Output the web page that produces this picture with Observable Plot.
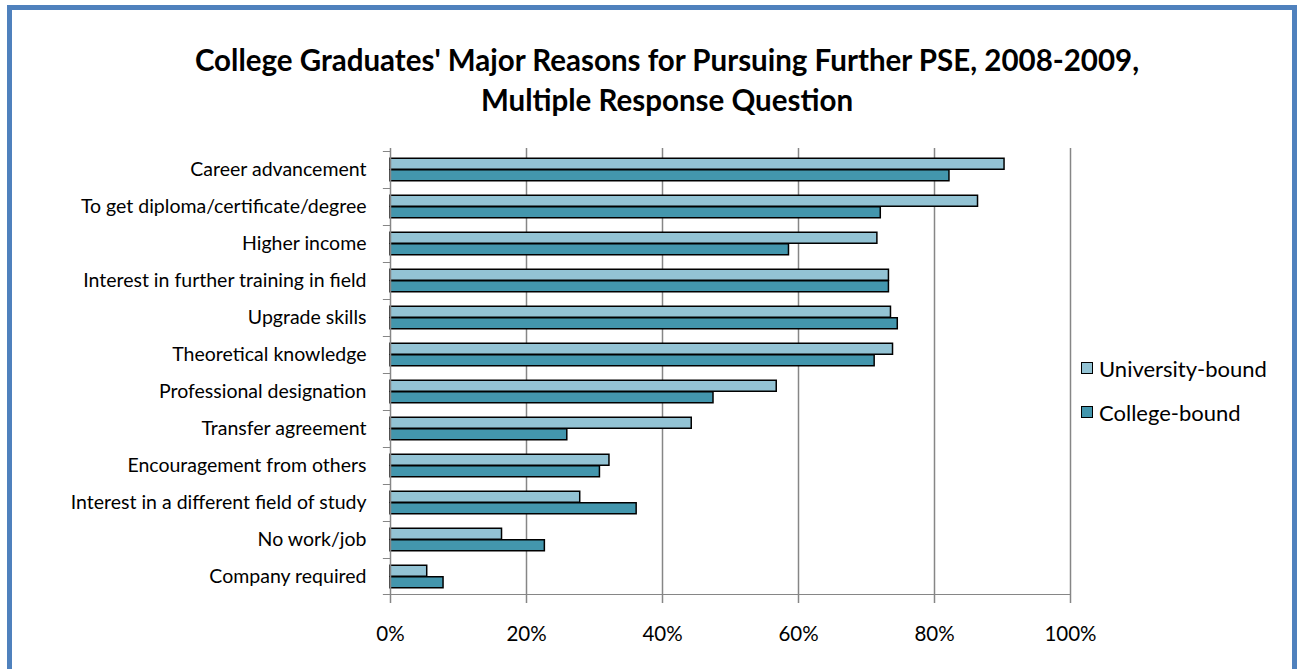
<!DOCTYPE html>
<html>
<head>
<meta charset="utf-8">
<script src="https://cdn.jsdelivr.net/npm/d3@7"></script>
<script src="https://cdn.jsdelivr.net/npm/@observablehq/plot@0.6"></script>
<style>
  html, body { margin: 0; padding: 0; background: #fff; }
  body { position: relative; width: 1298px; height: 669px; overflow: hidden; font-family: Lato, "Open Sans", sans-serif; }
  #frame { position: absolute; left: 7px; top: 5px; width: 1290px; height: 720px; border: 5px solid #4f81bd; box-sizing: border-box; }
  #title { position: absolute; left: 667px; top: 40px; transform: translateX(-50%); white-space: nowrap; text-align: center;
           font-weight: bold; font-size: 29.5px; line-height: 40px; color: #000; }
  #chart { position: absolute; left: 0; top: 0; }
  #legend { position: absolute; left: 1081px; top: 356px; font-size: 22px; color: #000; }
  #legend .item { display: flex; align-items: center; height: 24px; margin-bottom: 20px; }
  #legend .sw { width: 10px; height: 10px; border: 1.5px solid #000; margin-right: 6px; }
  #chart svg [aria-label="x-axis tick"] path, #chart svg .tick line { stroke: #868686; stroke-width: 1.5; }
  #chart svg [aria-label="x-axis tick label"], #chart svg g[aria-label="x-axis"] text { font-size: 20.5px; }
</style>
</head>
<body>
<div id="frame"></div>
<div id="chart"></div>
<div id="title">College Graduates' Major Reasons for Pursuing Further PSE, 2008-2009,<br>Multiple Response Question</div>
<div id="legend"></div>
<script>
const categories = [
  "Career advancement",
  "To get diploma/certificate/degree",
  "Higher income",
  "Interest in further training in field",
  "Upgrade skills",
  "Theoretical knowledge",
  "Professional designation",
  "Transfer agreement",
  "Encouragement from others",
  "Interest in a different field of study",
  "No work/job",
  "Company required"
];
const universityBound = [90.3, 86.4, 71.6, 73.3, 73.6, 73.9, 56.8, 44.3, 32.2, 27.9, 16.4, 5.4];
const collegeBound    = [82.2, 72.1, 58.6, 73.3, 74.6, 71.2, 47.5, 26.0, 30.8, 36.2, 22.7, 7.8];
const seriesNames = ["University-bound", "College-bound"];
const seriesColors = ["#93c3d4", "#4396ad"];
const xTicks = [0, 20, 40, 60, 80, 100];

const uni = categories.map((c, i) => ({category: c, value: universityBound[i]}));
const col = categories.map((c, i) => ({category: c, value: collegeBound[i]}));

const W = 1298, H = 669;
const mT = 148, mB = 71, mL = 390, mR = 228;
const bw = (H - mT - mB) / categories.length;
const barH = 11.5;
const outer = (bw - 2 * barH) / 2;
const gridColor = "#868686";

const plot = Plot.plot({
  width: W,
  height: H,
  marginTop: mT,
  marginBottom: mB,
  marginLeft: mL,
  marginRight: mR,
  style: {fontFamily: "Lato, 'Open Sans', sans-serif", fontSize: "19.5px", color: "#000", background: "transparent"},
  x: {domain: [0, 100], ticks: xTicks, tickFormat: d => d + "%", tickSize: 5, tickPadding: 23, label: null},
  y: {domain: categories, padding: 0, tickSize: 0, tickPadding: 24, label: null},
  marks: [
    Plot.ruleX(xTicks.slice(1), {stroke: gridColor, strokeWidth: 1.5}),
    Plot.barX(categories, {x1: -1.05, x2: 0, y: d => d, fill: gridColor, insetBottom: bw - 1.5}),
    Plot.barX(categories.slice(-1), {x1: -1.05, x2: 0, y: d => d, fill: gridColor, insetTop: bw - 1.5}),
    Plot.barX(uni, {x: "value", y: "category", fill: seriesColors[0], stroke: "#000", strokeWidth: 1.5,
                    insetTop: outer, insetBottom: bw - outer - barH}),
    Plot.barX(col, {x: "value", y: "category", fill: seriesColors[1], stroke: "#000", strokeWidth: 1.5,
                    insetTop: outer + barH, insetBottom: outer}),
    Plot.ruleX([0], {stroke: gridColor, strokeWidth: 1.5}),
    Plot.barX([0], {x1: 0, x2: 100, y: () => categories[categories.length - 1], fill: gridColor, insetTop: bw - 1.5})
  ]
});
document.getElementById("chart").appendChild(plot);

const legend = document.getElementById("legend");
seriesNames.forEach((name, i) => {
  const item = document.createElement("div");
  item.className = "item";
  const sw = document.createElement("div");
  sw.className = "sw";
  sw.style.background = seriesColors[i];
  const label = document.createElement("span");
  label.textContent = name;
  item.appendChild(sw);
  item.appendChild(label);
  legend.appendChild(item);
});
</script>
</body>
</html>
